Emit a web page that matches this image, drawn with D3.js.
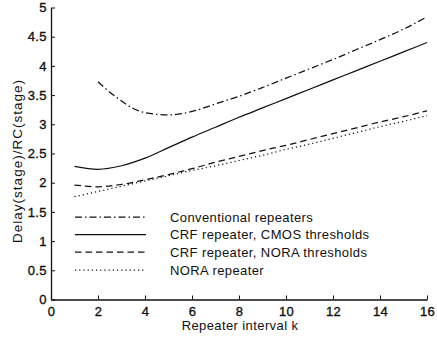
<!DOCTYPE html>
<html>
<head>
<meta charset="utf-8">
<script src="https://cdn.jsdelivr.net/npm/d3@7"></script>
<style>
  html, body { margin: 0; padding: 0; background: #fff; }
  svg { display: block; }
  text { font-family: "Liberation Sans", Arial, Helvetica, sans-serif; fill: #111; }
</style>
</head>
<body>
<svg id="chart" width="437" height="338"></svg>
<script>
// Repeater interval k
const kValues = [1, 2, 3, 4, 5, 6, 7, 8, 9, 10, 11, 12, 13, 14, 15, 16];
const kConventional = [2, 2.5, 3, 3.5, 4, 5, 6, 7, 8, 9, 10, 11, 12, 13, 14, 15, 16];

// Normalised stage delay for each repeater style
const conventional = [3.73, 3.55, 3.4, 3.27, 3.2, 3.16, 3.22, 3.35, 3.48, 3.63, 3.79, 3.95, 4.11, 4.28, 4.45, 4.63, 4.84];
const crfCmos = [2.28, 2.23, 2.29, 2.42, 2.6, 2.78, 2.95, 3.12, 3.28, 3.44, 3.6, 3.76, 3.92, 4.08, 4.24, 4.40];
const crfNora = [1.96, 1.93, 1.97, 2.05, 2.14, 2.24, 2.35, 2.45, 2.55, 2.64, 2.74, 2.84, 2.94, 3.04, 3.13, 3.23];
const nora = [1.76, 1.85, 1.94, 2.03, 2.12, 2.21, 2.29, 2.38, 2.47, 2.57, 2.66, 2.76, 2.86, 2.96, 3.05, 3.15];

const xTicks = [0, 2, 4, 6, 8, 10, 12, 14, 16];
const yTicks = [0, 0.5, 1, 1.5, 2, 2.5, 3, 3.5, 4, 4.5, 5];

const seriesNames = [
  "Conventional repeaters",
  "CRF repeater, CMOS thresholds",
  "CRF repeater, NORA thresholds",
  "NORA repeater"
];
const seriesDash = ["7,3,1.5,3", null, "6.5,4", "1.2,3"];

const series = [
  { name: seriesNames[0], xs: kConventional, ys: conventional, dash: seriesDash[0] },
  { name: seriesNames[1], xs: kValues, ys: crfCmos, dash: seriesDash[1] },
  { name: seriesNames[2], xs: kValues, ys: crfNora, dash: seriesDash[2] },
  { name: seriesNames[3], xs: kValues, ys: nora, dash: seriesDash[3] }
];

const svg = d3.select("#chart");
const plotLeft = 51, plotRight = 427, plotTop = 7.5, plotBottom = 299.5;
const fontSize = 13, spacing = "0.4px";

const x = d3.scaleLinear().domain([0, 16]).range([plotLeft, plotRight]);
const y = d3.scaleLinear().domain([0, 5]).range([plotBottom, plotTop]);

// Axes with inward ticks
const xAxis = d3.axisBottom(x).tickValues(xTicks).tickSize(-4).tickSizeOuter(0).tickPadding(7)
  .tickFormat(d3.format("d"));
const yAxis = d3.axisLeft(y).tickValues(yTicks).tickSize(-4).tickSizeOuter(0).tickPadding(4)
  .tickFormat(d => String(d));

const gx = svg.append("g").attr("transform", `translate(0,${plotBottom})`).call(xAxis);
const gy = svg.append("g").attr("transform", `translate(${plotLeft},0)`).call(yAxis);

[gx, gy].forEach(g => {
  g.select(".domain").attr("stroke", "#111").attr("stroke-width", 1.3);
  g.selectAll(".tick line").attr("stroke", "#111").attr("stroke-width", 1);
  g.selectAll(".tick text")
    .attr("font-size", fontSize)
    .attr("fill", "#111")
    .attr("stroke", "#111")
    .attr("stroke-width", 0.35)
    .attr("letter-spacing", spacing)
    .attr("font-family", "'Liberation Sans', Arial, sans-serif");
});
gx.selectAll(".tick text").attr("dy", "0.72em");

// Curves
const line = d3.line().curve(d3.curveMonotoneX);
series.forEach(s => {
  const pts = s.xs.map((k, i) => [x(k), y(s.ys[i])]);
  svg.append("path")
    .attr("d", line(pts))
    .attr("fill", "none")
    .attr("stroke", "#111")
    .attr("stroke-width", 1.25)
    .attr("stroke-dasharray", s.dash);
});

// Legend
const legendY = [217, 234.5, 252, 270];
series.forEach((s, i) => {
  svg.append("line")
    .attr("x1", 75).attr("x2", 146)
    .attr("y1", legendY[i]).attr("y2", legendY[i])
    .attr("stroke", "#111").attr("stroke-width", 1.25)
    .attr("stroke-dasharray", s.dash);
  svg.append("text")
    .attr("x", 170).attr("y", legendY[i])
    .attr("dy", "0.36em")
    .attr("font-size", fontSize)
    .attr("letter-spacing", spacing)
    .text(s.name);
});

// Axis titles
svg.append("text")
  .attr("x", 240).attr("y", 329.5)
  .attr("text-anchor", "middle")
  .attr("font-size", fontSize)
  .attr("letter-spacing", spacing)
  .text("Repeater interval k");

svg.append("text")
  .attr("transform", "translate(17,161) rotate(-90)")
  .attr("text-anchor", "middle")
  .attr("dy", "0.36em")
  .attr("font-size", 13.5)
  .attr("letter-spacing", "1px")
  .text("Delay(stage)/RC(stage)");
</script>
</body>
</html>
